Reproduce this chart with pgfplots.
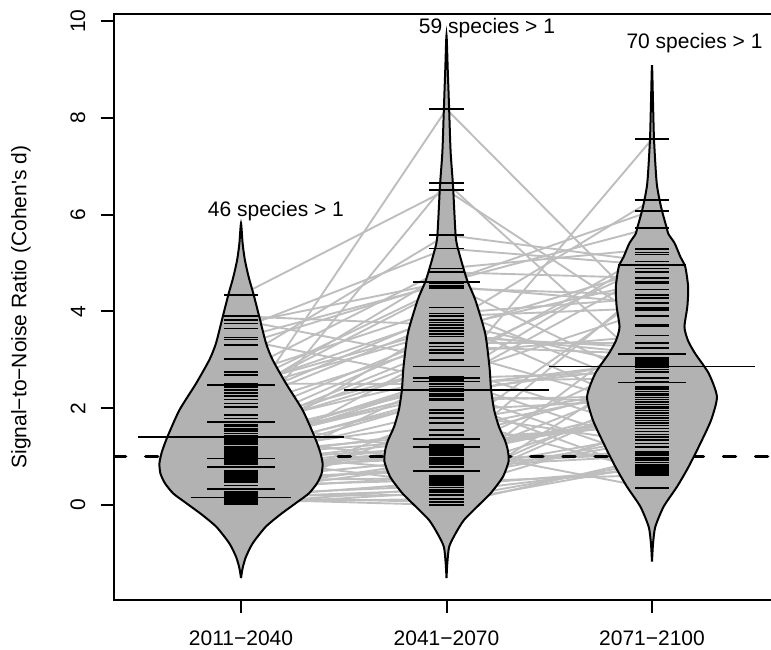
\documentclass[border=0pt]{standalone}
\usepackage{fontspec}
\setmainfont{Liberation Sans}
\usepackage{pgfplots}
\usepackage{pgfplotstable}
\pgfplotsset{compat=1.18}
\definecolor{beangray}{gray}{0.70}
\definecolor{linkgray}{gray}{0.745}
\newcommand\fs{\fontsize{21}{25}\selectfont}

% signal-to-noise per species: a = 2011-2040, b = 2041-2070, c = 2071-2100
\pgfplotstableread{
a b c
4.34 6.51 3.72
3.90 3.72 6.30
3.82 3.00 4.96
3.75 4.61 5.73
3.65 5.30 4.96
3.46 4.58 2.53
3.42 2.58 5.18
3.31 4.61 6.08
3.02 5.58 5.03
2.75 4.89 5.29
2.69 4.08 2.35
2.51 2.50 4.82
2.48 4.52 4.17
2.48 3.66 4.62
2.44 3.90 4.07
2.38 3.60 4.89
2.31 4.48 4.34
2.25 4.81 4.69
2.18 3.96 4.28
2.10 3.82 1.95
2.02 3.35 3.35
1.86 8.18 3.90
1.79 3.54 3.12
1.72 2.86 5.22
1.72 1.08 3.04
1.65 2.65 4.03
1.62 3.48 3.25
1.57 2.86 1.52
1.55 3.28 3.12
1.52 3.14 3.50
1.48 6.66 2.80
1.44 2.45 2.96
1.40 0.89 2.55
1.36 2.35 2.88
1.32 2.55 7.56
1.30 2.30 3.00
1.28 2.62 2.75
1.25 2.40 0.93
1.21 2.55 2.63
1.18 3.77 2.84
1.15 2.17 2.26
1.12 1.70 2.44
1.10 2.25 2.13
1.08 1.45 4.45
1.05 0.70 2.08
1.02 1.36 2.53
0.99 2.20 0.66
0.98 1.55 2.40
0.96 1.96 2.18
0.96 0.44 2.30
0.93 1.20 1.80
0.90 3.20 2.00
0.87 1.36 1.64
0.84 1.02 1.90
0.78 1.16 0.35
0.78 0.98 2.04
0.80 1.24 1.75
0.70 1.04 4.59
0.66 1.20 1.70
0.62 1.12 1.85
0.60 2.62 1.20
0.57 0.70 1.46
0.54 0.95 1.04
0.51 0.56 1.34
0.48 0.79 1.02
0.40 0.52 3.70
0.33 0.93 1.10
0.33 0.60 1.40
0.28 0.85 1.07
0.25 1.90 1.27
0.22 0.40 0.74
0.19 0.21 2.92
0.16 0.48 0.62
0.16 0.06 0.83
0.16 0.31 1.58
0.12 0.00 0.97
0.09 1.80 0.70
0.06 0.13 0.88
0.03 0.36 2.22
0.01 0.27 0.78
}\species

% bean outlines: half width w at height y
\pgfplotstableread{
y w
-1.51 0
-1.30 0.008
-1.07 0.024
-0.79 0.057
-0.45 0.12
-0.20 0.19
0.05 0.27
0.24 0.33
0.45 0.37
0.65 0.392
0.86 0.397
1.10 0.385
1.41 0.358
1.96 0.300
2.51 0.219
3.00 0.154
3.34 0.122
3.89 0.089
4.37 0.060
4.70 0.038
5.06 0.019
5.40 0.008
5.82 0
5.40 -0.008
5.06 -0.019
4.70 -0.038
4.37 -0.060
3.89 -0.089
3.34 -0.122
3.00 -0.154
2.51 -0.219
1.96 -0.300
1.41 -0.358
1.10 -0.385
0.86 -0.397
0.65 -0.392
0.45 -0.37
0.24 -0.33
0.05 -0.27
-0.20 -0.19
-0.45 -0.12
-0.79 -0.057
-1.07 -0.024
-1.30 -0.008
-1.51 0
}\beanA

\pgfplotstableread{
y w
-1.51 0
-1.20 0.004
-0.86 0.013
-0.58 0.045
-0.31 0.085
-0.03 0.15
0.24 0.214
0.58 0.274
0.90 0.302
1.14 0.298
1.34 0.284
1.62 0.255
1.96 0.232
2.38 0.217
2.86 0.209
3.55 0.188
4.24 0.14
4.65 0.10
5.20 0.062
5.54 0.045
6.58 0.032
7.30 0.020
8.16 0.013
9.00 0.006
9.71 0
9.00 -0.006
8.16 -0.013
7.30 -0.020
6.58 -0.032
5.54 -0.045
5.20 -0.062
4.65 -0.10
4.24 -0.14
3.55 -0.188
2.86 -0.209
2.38 -0.217
1.96 -0.232
1.62 -0.255
1.34 -0.284
1.14 -0.298
0.90 -0.302
0.58 -0.274
0.24 -0.214
-0.03 -0.15
-0.31 -0.085
-0.58 -0.045
-0.86 -0.013
-1.20 -0.004
-1.51 0
}\beanB

\pgfplotstableread{
y w
-1.17 0
-0.80 0.005
-0.45 0.016
-0.03 0.057
0.38 0.122
0.79 0.178
1.27 0.235
1.76 0.288
2.24 0.316
2.72 0.276
3.13 0.21
3.40 0.175
3.68 0.158
4.10 0.172
4.50 0.176
4.92 0.162
5.13 0.138
5.41 0.11
5.60 0.08
5.75 0.07
6.16 0.044
6.65 0.023
7.54 0.01
8.30 0.005
9.09 0
8.30 -0.005
7.54 -0.01
6.65 -0.023
6.16 -0.044
5.75 -0.07
5.60 -0.08
5.41 -0.11
5.13 -0.138
4.92 -0.162
4.50 -0.176
4.10 -0.172
3.68 -0.158
3.40 -0.175
3.13 -0.21
2.72 -0.276
2.24 -0.316
1.76 -0.288
1.27 -0.235
0.79 -0.178
0.38 -0.122
-0.03 -0.057
-0.45 -0.016
-0.80 -0.005
-1.17 0
}\beanC

% repeated values get longer bean lines (half length h)
\pgfplotstableread{
y h
2.48 0.165
1.72 0.165
0.96 0.165
0.78 0.165
0.33 0.165
0.16 0.245
}\dupA
\pgfplotstableread{
y h
4.61 0.165
2.86 0.165
2.62 0.165
2.55 0.165
1.36 0.165
1.20 0.165
0.70 0.165
}\dupB
\pgfplotstableread{
y h
4.96 0.165
3.12 0.165
2.53 0.165
}\dupC

\begin{document}
\begin{tikzpicture}
\begin{axis}[
scale only axis,
width=665.8pt, height=585.6pt,
xmin=0.38, xmax=3.62,
ymin=-1.96, ymax=10.14,
axis line style={line width=2pt},
xtick={1,2,3},
xticklabels={2011−2040, 2041−2070, 2071−2100},
ytick={0,2,4,6,8,10},
xtick pos=bottom, ytick pos=left,
tick align=outside,
major tick length=13pt,
tick style={line width=2pt, black},
/pgf/number format/assume math mode=true,
ticklabel style={font=\fs, inner sep=0pt},
xticklabel style={anchor=north},
yticklabel style={rotate=90, anchor=south},
xticklabel shift=18pt,
yticklabel shift=15pt,
ylabel={Signal−to−Noise Ratio (Cohen\textquotesingle s d)},
every axis y label/.style={at={(axis description cs:-0.139,0.5)}, rotate=90, anchor=center, font=\fs},
]
\coordinate (ll) at (rel axis cs:0,0);

% species links between periods
\addplot [linkgray, line width=1.9pt, line cap=round,
  quiver={u=1, v=\thisrow{b}-\thisrow{a}}] table [x expr=1, y=a] {\species};
\addplot [linkgray, line width=1.9pt, line cap=round,
  quiver={u=1, v=\thisrow{c}-\thisrow{b}}] table [x expr=2, y=b] {\species};

% threshold d = 1
\addplot [black, line width=3.5pt, line cap=round, dash pattern=on 12pt off 20.1pt]
  coordinates {(0.38,1) (3.62,1)};

% beans
\addplot [fill=beangray, draw=black, line width=2pt, smooth, tension=0.4]
  table [x expr=1+\thisrow{w}, y=y] {\beanA};
\addplot [fill=beangray, draw=black, line width=2pt, smooth, tension=0.4]
  table [x expr=2+\thisrow{w}, y=y] {\beanB};
\addplot [fill=beangray, draw=black, line width=2pt, smooth, tension=0.4]
  table [x expr=3+\thisrow{w}, y=y] {\beanC};

% bean lines
\addplot [black, line width=1.6pt, quiver={u=0.166, v=0}] table [x expr=1-0.083, y=a] {\species};
\addplot [black, line width=1.6pt, quiver={u=0.166, v=0}] table [x expr=2-0.083, y=b] {\species};
\addplot [black, line width=1.6pt, quiver={u=0.166, v=0}] table [x expr=3-0.083, y=c] {\species};
\addplot [black, line width=1.6pt, quiver={u=2*\thisrow{h}, v=0}] table [x expr=1-\thisrow{h}, y=y] {\dupA};
\addplot [black, line width=1.6pt, quiver={u=2*\thisrow{h}, v=0}] table [x expr=2-\thisrow{h}, y=y] {\dupB};
\addplot [black, line width=1.6pt, quiver={u=2*\thisrow{h}, v=0}] table [x expr=3-\thisrow{h}, y=y] {\dupC};

% bean means
\addplot [black, line width=1.7pt] coordinates {(0.5,1.41) (1.5,1.41)};
\addplot [black, line width=1.7pt] coordinates {(1.5,2.38) (2.5,2.38)};
\addplot [black, line width=1.7pt] coordinates {(2.5,2.86) (3.5,2.86)};

\node [anchor=base, font=\fs, inner sep=0pt] at (axis cs:1.17,5.97) {46 species > 1};
\node [anchor=base, font=\fs, inner sep=0pt] at (axis cs:2.197,9.75) {59 species > 1};
\node [anchor=base, font=\fs, inner sep=0pt] at (axis cs:3.207,9.44) {70 species > 1};
\end{axis}
\pgfresetboundingbox
\path ([shift={(-113.6pt,-49.1pt)}]ll) rectangle ([shift={(657.4pt,599.9pt)}]ll);
\end{tikzpicture}
\end{document}
